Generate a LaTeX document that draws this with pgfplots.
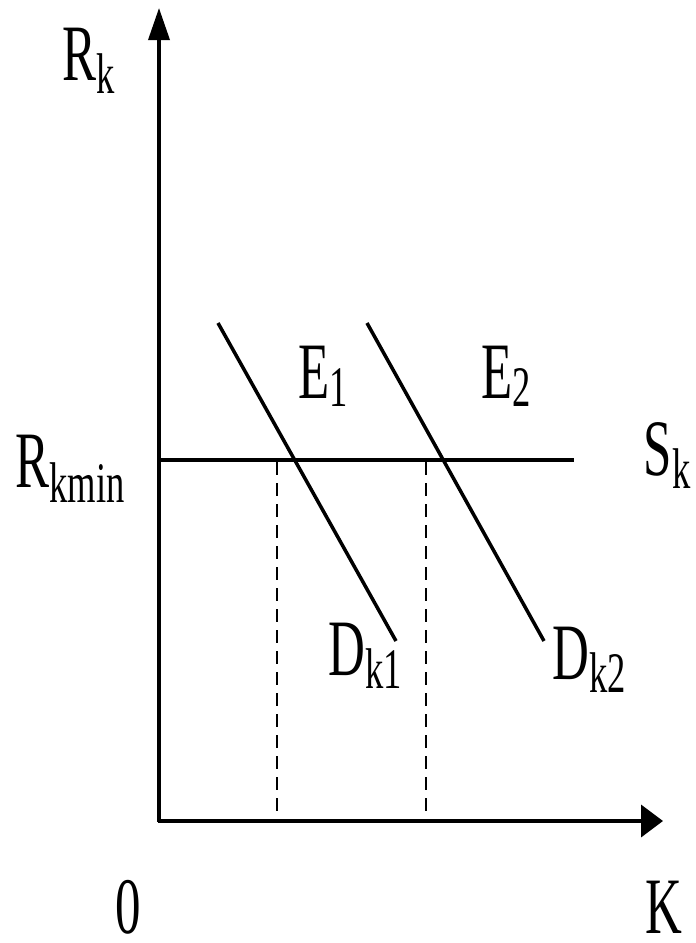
\documentclass[border=0pt]{standalone}
\usepackage{pgfplots}
\pgfplotsset{compat=1.18}
\usepackage{fontspec}
\setmainfont{Liberation Serif}
\usetikzlibrary{arrows.meta}

% letter with a lowered subscript, stretched upright like the original
\newcommand{\lab}[3][0.165em]{\scalebox{1}[1.57]{\fontsize{14.5pt}{17pt}\selectfont #2\raisebox{-#1}{\fontsize{10.4pt}{12pt}\selectfont #3}}}
\newcommand{\plain}[1]{\scalebox{1}[1.57]{\fontsize{14.5pt}{17pt}\selectfont #1}}

\begin{document}
\begin{tikzpicture}
\begin{axis}[
    scale only axis,
    width=6.96cm, height=9.43cm,
    xmin=0, xmax=696,
    ymin=0, ymax=943,
    y dir=reverse,
    hide axis,
    clip=false,
]
% page extent
\addplot[draw=none, forget plot] coordinates {(0,0) (696,943)};

% axes
\addplot[line width=1pt, -{Triangle[length=3.2mm, width=2.1mm]}]
    coordinates {(159,822) (159,8)};
\addplot[line width=1.1pt, -{Triangle[length=2.2mm, width=3.2mm]}]
    coordinates {(158,821) (663,821)};

% supply S_k
\addplot[line width=1.1pt] coordinates {(159,460) (574,460)};

% demand curves
\addplot[line width=1pt] coordinates {(218,323) (396,641)};
\addplot[line width=1pt] coordinates {(367,323) (544,641)};

% dashed drop lines
\addplot[line width=0.85pt, dash pattern=on 1.3mm off 0.8mm] coordinates {(277,462) (277,821)};
\addplot[line width=0.85pt, dash pattern=on 1.3mm off 0.8mm] coordinates {(426,462) (426,821)};

% labels
\node[anchor=base west, inner sep=0] at (axis cs:62,80) {\lab{R}{k}};
\node[anchor=base west, inner sep=0] at (axis cs:15,487) {\lab[0.19em]{R}{kmin}};
\node[anchor=base west, inner sep=0] at (axis cs:643,475) {\lab{S}{k}};
\node[anchor=base west, inner sep=0] at (axis cs:298,398) {\lab[0.11em]{E}{1}};
\node[anchor=base west, inner sep=0] at (axis cs:481,398) {\lab[0.11em]{E}{2}};
\node[anchor=base west, inner sep=0] at (axis cs:328,675) {\lab{D}{k1}};
\node[anchor=base west, inner sep=0] at (axis cs:552,679) {\lab{D}{k2}};
\node[anchor=base west, inner sep=0] at (axis cs:115,933) {\plain{0}};
\node[anchor=base west, inner sep=0] at (axis cs:645,933) {\plain{K}};
\end{axis}
\end{tikzpicture}
\end{document}
